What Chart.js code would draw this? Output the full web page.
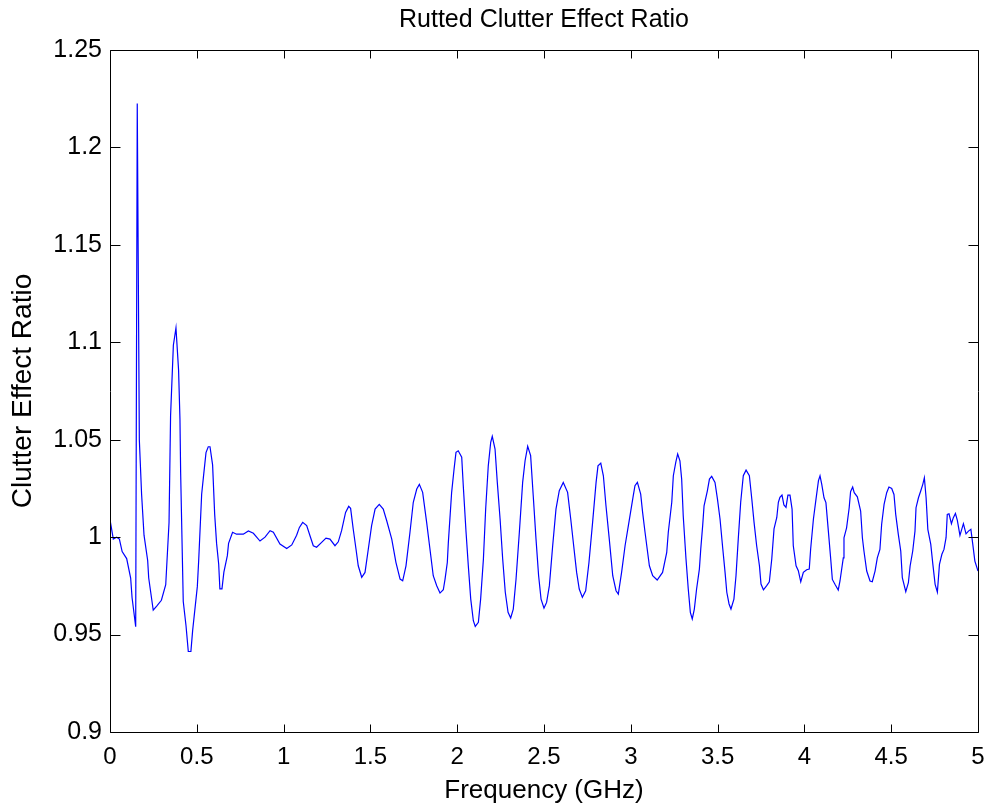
<!DOCTYPE html>
<html>
<head>
<meta charset="utf-8">
<title>Rutted Clutter Effect Ratio</title>
<script src="https://cdn.jsdelivr.net/npm/chart.js@4.4.0/dist/chart.umd.min.js"></script>
<style>
  html, body { margin: 0; padding: 0; background: #ffffff; }
  canvas { display: block; }
</style>
</head>
<body>
<canvas id="chart" width="985" height="805"></canvas>
<script>
// Frequency samples (GHz)
const freqGHz = [
  0, 0.001, 0.019, 0.038, 0.054, 0.070, 0.096, 0.119, 0.127, 0.148,
  0.157, 0.169, 0.182, 0.196, 0.217, 0.223, 0.249, 0.269, 0.296, 0.321,
  0.340, 0.349, 0.365, 0.380, 0.395, 0.403, 0.407, 0.422, 0.438, 0.451,
  0.466, 0.476, 0.503, 0.511, 0.528, 0.538, 0.553, 0.566, 0.576, 0.591,
  0.603, 0.614, 0.626, 0.633, 0.645, 0.656, 0.676, 0.683, 0.706, 0.729,
  0.768, 0.797, 0.826, 0.864, 0.893, 0.922, 0.941, 0.979, 1.018, 1.047,
  1.075, 1.091, 1.110, 1.133, 1.152, 1.171, 1.190, 1.219, 1.244, 1.267,
  1.296, 1.315, 1.334, 1.357, 1.375, 1.386, 1.401, 1.417, 1.430, 1.450,
  1.469, 1.488, 1.507, 1.527, 1.551, 1.574, 1.594, 1.623, 1.647, 1.671,
  1.686, 1.705, 1.728, 1.747, 1.767, 1.782, 1.801, 1.824, 1.843, 1.862,
  1.882, 1.901, 1.920, 1.930, 1.943, 1.949, 1.968, 1.982, 1.993, 2.006,
  2.026, 2.035, 2.051, 2.064, 2.078, 2.093, 2.104, 2.122, 2.135, 2.151,
  2.164, 2.179, 2.193, 2.202, 2.218, 2.231, 2.247, 2.262, 2.277, 2.293,
  2.308, 2.323, 2.339, 2.358, 2.377, 2.391, 2.406, 2.423, 2.438, 2.454,
  2.469, 2.483, 2.500, 2.515, 2.531, 2.550, 2.569, 2.588, 2.611, 2.636,
  2.654, 2.673, 2.688, 2.703, 2.721, 2.740, 2.759, 2.780, 2.800, 2.811,
  2.827, 2.842, 2.857, 2.876, 2.896, 2.915, 2.928, 2.947, 2.967, 2.986,
  3.014, 3.024, 3.038, 3.057, 3.068, 3.082, 3.092, 3.107, 3.126, 3.152,
  3.183, 3.207, 3.216, 3.236, 3.245, 3.259, 3.270, 3.283, 3.293, 3.302,
  3.318, 3.331, 3.343, 3.354, 3.366, 3.379, 3.395, 3.403, 3.414, 3.422,
  3.441, 3.453, 3.466, 3.485, 3.499, 3.514, 3.530, 3.543, 3.553, 3.566,
  3.577, 3.594, 3.606, 3.619, 3.633, 3.648, 3.664, 3.683, 3.697, 3.710,
  3.725, 3.741, 3.750, 3.764, 3.783, 3.798, 3.812, 3.825, 3.841, 3.850,
  3.859, 3.871, 3.882, 3.894, 3.905, 3.917, 3.929, 3.936, 3.952, 3.965,
  3.979, 3.994, 4.013, 4.028, 4.036, 4.052, 4.067, 4.081, 4.090, 4.100,
  4.113, 4.124, 4.138, 4.151, 4.161, 4.176, 4.195, 4.205, 4.224, 4.228,
  4.243, 4.258, 4.266, 4.278, 4.287, 4.305, 4.324, 4.334, 4.343, 4.359,
  4.378, 4.391, 4.407, 4.420, 4.435, 4.445, 4.459, 4.474, 4.487, 4.503,
  4.516, 4.526, 4.541, 4.555, 4.564, 4.584, 4.599, 4.609, 4.624, 4.637,
  4.643, 4.657, 4.670, 4.682, 4.691, 4.701, 4.711, 4.728, 4.740, 4.753,
  4.766, 4.778, 4.792, 4.804, 4.816, 4.823, 4.833, 4.847, 4.858, 4.870,
  4.881, 4.896, 4.916, 4.931, 4.945, 4.959, 4.970, 4.982, 5.000
];

// Clutter effect ratio at each frequency
const ratio = [
  0.900, 1.0085, 0.999, 1.000, 0.999, 0.9926, 0.989, 0.979, 0.969, 0.954,
  1.2225, 1.0498, 1.022, 1.001, 0.988, 0.979, 0.9625, 0.9646, 0.9676, 0.9756,
  1.0074, 1.0625, 1.0985, 1.1074, 1.0858, 1.0604, 1.0328, 0.967, 0.9544, 0.9413,
  0.9413, 0.952, 0.9746, 0.9883, 1.022, 1.0307, 1.0434, 1.0464, 1.0464, 1.0371,
  1.0117, 0.9968, 0.9862, 0.9735, 0.9735, 0.982, 0.9905, 0.9968, 1.0025, 1.0015,
  1.0015, 1.0032, 1.002, 0.998, 1.000, 1.0033, 1.0025, 0.9965, 0.9942, 0.996,
  1.001, 1.005, 1.0076, 1.0059, 1.0007, 0.9956, 0.9948, 0.9973, 0.9995, 0.999,
  0.9956, 0.9976, 1.0033, 1.0127, 1.0158, 1.0148, 1.0042, 0.9939, 0.9853, 0.9794,
  0.9819, 0.9939, 1.0059, 1.0144, 1.0168, 1.0144, 1.0084, 0.999, 0.9871, 0.9785,
  0.9776, 0.9853, 1.0025, 1.0179, 1.0247, 1.0271, 1.023, 1.0076, 0.9939, 0.9802,
  0.9751, 0.9713, 0.973, 0.9785, 0.987, 0.9973, 1.023, 1.035, 1.0435, 1.0443,
  1.041, 1.0264, 1.0025, 0.9853, 0.9682, 0.9571, 0.9542, 0.9563, 0.9682, 0.9888,
  1.0144, 1.0366, 1.0487, 1.0517, 1.0452, 1.0281, 1.0093, 0.9888, 0.9717, 0.9614,
  0.9585, 0.9631, 0.9785, 1.0025, 1.0281, 1.0392, 1.0466, 1.0418, 1.0212, 0.999,
  0.9802, 0.9682, 0.9636, 0.9665, 0.9751, 0.9956, 1.0144, 1.0238, 1.0281, 1.023,
  1.0093, 0.9939, 0.9819, 0.9734, 0.9691, 0.9725, 0.987, 1.0076, 1.0281, 1.0366,
  1.038, 1.0315, 1.0161, 0.999, 0.9802, 0.9725, 0.9708, 0.9819, 0.9956, 1.0059,
  1.0212, 1.0264, 1.0281, 1.0221, 1.0127, 1.0025, 0.9956, 0.9853, 0.9802, 0.978,
  0.9819, 0.9922, 1.0025, 1.0179, 1.0315, 1.0384, 1.0427, 1.0392, 1.0298, 1.011,
  0.9888, 0.9734, 0.9614, 0.958, 0.9631, 0.9734, 0.9836, 0.9939, 1.0059, 1.0161,
  1.0238, 1.0298, 1.0312, 1.0281, 1.0196, 1.0093, 0.9939, 0.9819, 0.9717, 0.9657,
  0.9631, 0.9682, 0.9802, 0.999, 1.0179, 1.0315, 1.0344, 1.0315, 1.0196, 1.0076,
  0.9956, 0.9853, 0.9759, 0.973, 0.9751, 0.9771, 0.9888, 1.0042, 1.0101, 1.0179,
  1.0204, 1.0216, 1.0165, 1.0153, 1.0216, 1.0216, 1.0144, 0.9956, 0.9853, 0.9828,
  0.9771, 0.9819, 0.9833, 0.9836, 0.9939, 1.0093, 1.0196, 1.029, 1.0315, 1.0271,
  1.0202, 1.0177, 1.0031, 0.9894, 0.9783, 0.9758, 0.9729, 0.9775, 0.9894, 0.9997,
  1.0048, 1.0151, 1.0233, 1.0257, 1.0228, 1.0207, 1.0134, 0.9997, 0.9929, 0.9826,
  0.9775, 0.9771, 0.9826, 0.9894, 0.9937, 1.0066, 1.0168, 1.0228, 1.0257, 1.025,
  1.0219, 1.0117, 1.0014, 0.9929, 0.9792, 0.972, 0.9766, 0.9852, 0.9929, 1.0031,
  1.0151, 1.0202, 1.0237, 1.0271, 1.0305, 1.0202, 1.004, 0.9963, 0.986, 0.9758,
  0.9718, 0.986, 0.9912, 0.9937, 0.9997, 1.0117, 1.012, 1.0069, 1.01, 1.0122,
  1.0086, 1.0009, 1.0069, 1.0017, 1.0031, 1.004, 0.9963, 0.9877, 0.9826
];

// Axis tick positions and their labels
const xTicks = [0, 0.5, 1, 1.5, 2, 2.5, 3, 3.5, 4, 4.5, 5];
const xTickLabels = ['0', '0.5', '1', '1.5', '2', '2.5', '3', '3.5', '4', '4.5', '5'];
const yTicks = [0.9, 0.95, 1, 1.05, 1.1, 1.15, 1.2, 1.25];
const yTickLabels = ['0.9', '0.95', '1', '1.05', '1.1', '1.15', '1.2', '1.25'];

const FONT = "'Liberation Sans', Arial, Helvetica, sans-serif";

// Closed axes box with inward-pointing tick marks on all four sides
const axesBox = {
  id: 'axesBox',
  afterDatasetsDraw(chart) {
    const { ctx, chartArea: a, scales } = chart;
    const L = Math.round(a.left) + 0.5, R = Math.round(a.right) + 0.5;
    const T = Math.round(a.top) + 0.5, B = Math.round(a.bottom) + 0.5;
    ctx.save();
    ctx.strokeStyle = '#000';
    ctx.lineWidth = 1;
    ctx.beginPath();
    ctx.rect(L, T, R - L, B - T);
    const xLen = 8, yLen = 10;
    xTicks.forEach(v => {
      const px = Math.round(scales.x.getPixelForValue(v)) + 0.5;
      ctx.moveTo(px, B); ctx.lineTo(px, B - xLen);
      ctx.moveTo(px, T); ctx.lineTo(px, T + xLen);
    });
    yTicks.forEach(v => {
      const py = Math.round(scales.y.getPixelForValue(v)) + 0.5;
      ctx.moveTo(L, py); ctx.lineTo(L + yLen, py);
      ctx.moveTo(R, py); ctx.lineTo(R - yLen, py);
    });
    ctx.stroke();
    ctx.restore();
  }
};

new Chart(document.getElementById('chart'), {
  type: 'line',
  data: {
    datasets: [{
      data: freqGHz.map((f, i) => ({ x: f, y: ratio[i] })),
      borderColor: '#0000ff',
      borderWidth: 1.2,
      pointRadius: 0,
      tension: 0,
      fill: false
    }]
  },
  options: {
    responsive: false,
    animation: false,
    devicePixelRatio: 1,
    layout: { padding: { left: 0, right: 7, top: 0, bottom: 0 } },
    plugins: {
      legend: { display: false },
      tooltip: { enabled: false },
      title: {
        display: true,
        fullSize: false,
        text: 'Rutted Clutter Effect Ratio',
        color: '#000',
        font: { family: FONT, size: 25, weight: 'normal', lineHeight: 1.2 },
        padding: { top: 5, bottom: 15 }
      }
    },
    scales: {
      x: {
        type: 'linear',
        min: 0,
        max: 5,
        afterBuildTicks: s => { s.ticks = xTicks.map(v => ({ value: v })); },
        afterFit: s => { s.height = 73; s.paddingLeft = 0; s.paddingRight = 0; },
        grid: { display: false, drawTicks: false },
        border: { display: false },
        ticks: {
          autoSkip: false,
          maxRotation: 0,
          padding: 11,
          color: '#000',
          font: { family: FONT, size: 24 },
          callback: (v, i) => xTickLabels[i]
        },
        title: {
          display: true,
          text: 'Frequency (GHz)',
          color: '#000',
          font: { family: FONT, size: 26, lineHeight: 1 },
          padding: { top: 0, bottom: 1 }
        }
      },
      y: {
        type: 'linear',
        min: 0.9,
        max: 1.25,
        afterBuildTicks: s => { s.ticks = yTicks.map(v => ({ value: v })); },
        afterFit: s => { s.width = 110; },
        grid: { display: false, drawTicks: false },
        border: { display: false },
        ticks: {
          autoSkip: false,
          padding: 8,
          color: '#000',
          font: { family: FONT, size: 25 },
          callback: (v, i) => yTickLabels[i]
        },
        title: {
          display: true,
          text: 'Clutter Effect Ratio',
          color: '#000',
          font: { family: FONT, size: 28, lineHeight: 1 },
          padding: { top: 9, bottom: 0 }
        }
      }
    }
  },
  plugins: [axesBox]
});
</script>
</body>
</html>
